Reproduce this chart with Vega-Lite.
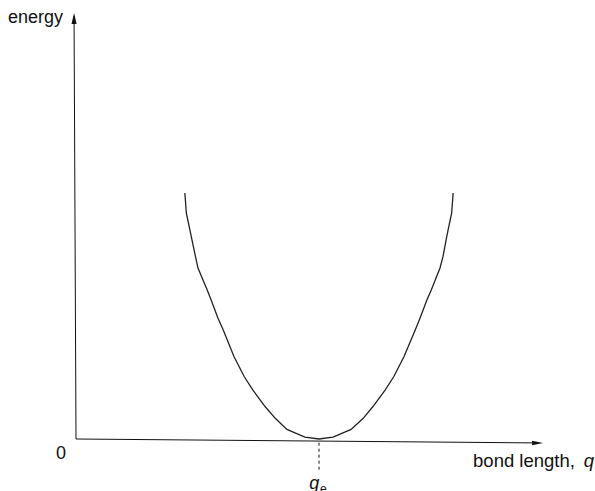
{
  "$schema": "https://vega.github.io/schema/vega-lite/v6.json",
  "width": 595,
  "height": 491,
  "padding": 0,
  "autosize": {"type": "none"},
  "config": {
    "view": {"stroke": null},
    "text": {"font": "Liberation Sans", "fontSize": 18, "color": "#111", "align": "left", "baseline": "alphabetic"}
  },
  "encoding": {
    "x": {"field": "q", "type": "quantitative", "axis": null,
          "scale": {"domain": [0, 10], "range": [76, 562], "zero": false, "nice": false}},
    "y": {"field": "E", "type": "quantitative", "axis": null,
          "scale": {"domain": [0, 10], "range": [439, 193], "zero": false, "nice": false}}
  },
  "layer": [
    {
      "description": "energy and bond-length axes",
      "data": {"values": [
        {"q": 0, "E": 0, "q2": -0.04, "E2": 17.2},
        {"q": 0, "E": 0, "q2": 9.5, "E2": -0.16}
      ]},
      "mark": {"type": "rule", "color": "#111", "strokeWidth": 1},
      "encoding": {"x2": {"field": "q2"}, "y2": {"field": "E2"}}
    },
    {
      "description": "arrowhead on the energy axis",
      "data": {"values": [{"q": -0.04, "E": 17.32}]},
      "mark": {"type": "point", "filled": true, "color": "#111", "opacity": 1,
               "shape": "M0,0L0.23,1L-0.23,1Z", "size": 484}
    },
    {
      "description": "arrowhead on the bond-length axis",
      "data": {"values": [{"q": 9.61, "E": -0.16}]},
      "mark": {"type": "point", "filled": true, "color": "#111", "opacity": 1,
               "shape": "M0,0L-1,-0.21L-1,0.21Z", "size": 484}
    },
    {
      "description": "equilibrium bond length marker",
      "data": {"values": [{"q": 5, "E": -0.15, "q2": 5, "E2": -1.26}]},
      "mark": {"type": "rule", "color": "#111", "strokeWidth": 1, "strokeDash": [3, 3]},
      "encoding": {"x2": {"field": "q2"}, "y2": {"field": "E2"}}
    },
    {
      "description": "potential energy curve",
      "data": {"values": [
        {"q": 2.24, "E": 10.0}, {"q": 2.27, "E": 9.19}, {"q": 2.37, "E": 8.25},
        {"q": 2.46, "E": 7.40}, {"q": 2.51, "E": 6.95}, {"q": 2.70, "E": 6.06},
        {"q": 2.78, "E": 5.65}, {"q": 2.92, "E": 4.92}, {"q": 3.03, "E": 4.43},
        {"q": 3.25, "E": 3.35}, {"q": 3.46, "E": 2.54}, {"q": 3.64, "E": 1.99},
        {"q": 3.89, "E": 1.32}, {"q": 4.10, "E": 0.84}, {"q": 4.34, "E": 0.39},
        {"q": 4.71, "E": 0.08}, {"q": 5.00, "E": 0.0}, {"q": 5.29, "E": 0.08},
        {"q": 5.66, "E": 0.39}, {"q": 5.91, "E": 0.84}, {"q": 6.11, "E": 1.32},
        {"q": 6.36, "E": 1.99}, {"q": 6.54, "E": 2.54}, {"q": 6.75, "E": 3.35},
        {"q": 6.98, "E": 4.43}, {"q": 7.08, "E": 4.92}, {"q": 7.22, "E": 5.65},
        {"q": 7.31, "E": 6.06}, {"q": 7.49, "E": 6.95}, {"q": 7.55, "E": 7.40},
        {"q": 7.63, "E": 8.25}, {"q": 7.73, "E": 9.19}, {"q": 7.76, "E": 10.0}
      ]},
      "mark": {"type": "line", "color": "#222", "strokeWidth": 1.3}
    },
    {
      "data": {"values": [{"q": -1.4, "E": 16.9, "label": "energy"}]},
      "mark": {"type": "text"},
      "encoding": {"text": {"field": "label"}}
    },
    {
      "data": {"values": [{"q": -0.41, "E": -0.83, "label": "0"}]},
      "mark": {"type": "text"},
      "encoding": {"text": {"field": "label"}}
    },
    {
      "data": {"values": [{"q": 8.17, "E": -1.13, "label": "bond length,"}]},
      "mark": {"type": "text", "fontSize": 18.5},
      "encoding": {"text": {"field": "label"}}
    },
    {
      "data": {"values": [{"q": 10.45, "E": -1.13, "label": "q"}]},
      "mark": {"type": "text", "fontStyle": "italic", "fontSize": 18.5},
      "encoding": {"text": {"field": "label"}}
    },
    {
      "data": {"values": [{"q": 4.8, "E": -2.03, "label": "q"}]},
      "mark": {"type": "text", "fontStyle": "italic"},
      "encoding": {"text": {"field": "label"}}
    },
    {
      "data": {"values": [{"q": 5.02, "E": -2.2, "label": "e"}]},
      "mark": {"type": "text", "fontSize": 12},
      "encoding": {"text": {"field": "label"}}
    }
  ]
}
